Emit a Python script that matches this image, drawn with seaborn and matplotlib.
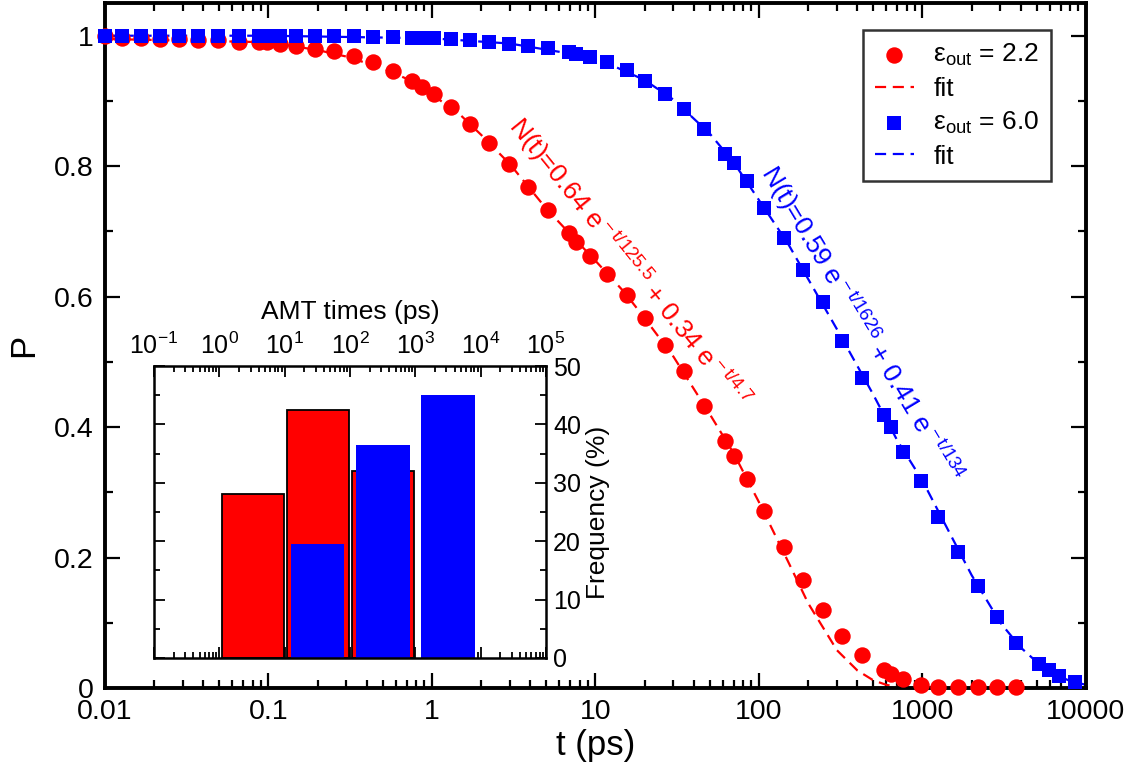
import matplotlib
matplotlib.use("Agg")
import matplotlib.pyplot as plt
from matplotlib.ticker import FuncFormatter, LogLocator, MultipleLocator, NullFormatter
import pandas as pd
import seaborn as sns

# survival probability, eps_out = 2.2 (red circles)
t_red = [0.01, 0.0127, 0.0166, 0.0218, 0.0285, 0.0373, 0.0489, 0.0656, 0.088, 0.098,
         0.117, 0.147, 0.192, 0.253, 0.334, 0.438, 0.578, 0.757, 0.867, 1.035,
         1.31, 1.70, 2.24, 2.95, 3.88, 5.13, 6.85, 7.63, 9.2, 11.7,
         15.5, 20.1, 26.6, 34.7, 46, 62, 70, 85, 108, 142,
         187, 247, 324, 427, 580, 645, 764, 986, 1250, 1650,
         2180, 2850, 3750]
p_red = [0.999, 0.997, 0.996, 0.995, 0.995, 0.994, 0.993, 0.991, 0.990, 0.990,
         0.988, 0.984, 0.980, 0.976, 0.969, 0.959, 0.946, 0.930, 0.921, 0.910,
         0.891, 0.865, 0.836, 0.804, 0.768, 0.733, 0.698, 0.684, 0.663, 0.635,
         0.603, 0.567, 0.526, 0.486, 0.432, 0.378, 0.356, 0.321, 0.271, 0.217,
         0.165, 0.119, 0.080, 0.050, 0.027, 0.022, 0.014, 0.005, 0.002, 0.001,
         0.001, 0.001, 0.001]

# survival probability, eps_out = 6.0 (blue squares)
t_blue = [0.01, 0.0127, 0.0166, 0.0218, 0.0285, 0.0373, 0.0489, 0.0656, 0.088, 0.098,
          0.117, 0.147, 0.192, 0.253, 0.334, 0.438, 0.578, 0.757, 0.867, 1.035,
          1.31, 1.70, 2.24, 2.95, 3.88, 5.13, 6.85, 7.63, 9.2, 11.7,
          15.5, 20.1, 26.6, 34.7, 46, 62, 70, 85, 108, 142,
          187, 247, 324, 427, 580, 645, 764, 986, 1250, 1650,
          2180, 2850, 3750, 5150, 5950, 6800, 8600]
p_blue = [1.0, 1.0, 1.0, 1.0, 1.0, 1.0, 1.0, 1.0, 0.999, 0.999,
          0.999, 0.999, 0.999, 0.999, 0.999, 0.998, 0.998, 0.997, 0.997, 0.996,
          0.995, 0.993, 0.990, 0.988, 0.985, 0.981, 0.975, 0.972, 0.967, 0.959,
          0.947, 0.931, 0.911, 0.888, 0.857, 0.819, 0.805, 0.777, 0.736, 0.690,
          0.641, 0.592, 0.532, 0.476, 0.418, 0.400, 0.362, 0.318, 0.263, 0.208,
          0.156, 0.109, 0.069, 0.037, 0.027, 0.019, 0.010]

# fitted curves
fit_t_red = [0.01, 0.1, 0.2, 0.3, 0.5, 0.7, 1, 1.5, 2, 3, 5, 7, 10, 15, 20, 30,
             50, 70, 100, 150, 200, 300, 400, 500, 600, 700, 800]
fit_p_red = [0.995, 0.99, 0.978, 0.968, 0.95, 0.934, 0.91, 0.878, 0.848, 0.803,
             0.735, 0.696, 0.655, 0.607, 0.567, 0.508, 0.42, 0.36, 0.285, 0.195,
             0.13, 0.058, 0.027, 0.012, 0.005, 0.002, 0.0]
fit_t_blue = [0.01, 0.1, 1, 3, 10, 20, 30, 50, 70, 100, 150, 200, 300, 500, 700,
              1000, 1500, 2000, 3000, 4000, 5000, 6000, 7000, 8000, 10000]
fit_p_blue = [1.0, 1.0, 0.996, 0.988, 0.966, 0.932, 0.902, 0.85, 0.806, 0.748,
              0.682, 0.627, 0.55, 0.45, 0.38, 0.318, 0.233, 0.173, 0.100, 0.062,
              0.040, 0.026, 0.017, 0.011, 0.005]

# inset: AMT time histogram, one bin per decade
red_bin_lo = [1, 10, 100]
red_bin_hi = [10, 100, 1000]
red_freq = [28, 42.5, 32]
blue_bin_lo = [10, 100, 1000]
blue_bin_hi = [100, 1000, 10000]
blue_freq = [19.5, 36.5, 45]

red_label = r"N(t)=0.64 e$^{\rm -t/125.5}$ + 0.34 e$^{\rm -t/4.7}$"
blue_label = r"N(t)=0.59 e$^{\rm -t/1626}$ + 0.41 e$^{\rm -t/134}$"


def main():
    sns.set_style("ticks")
    plt.rcParams["font.family"] = ["Liberation Sans", "DejaVu Sans"]
    plt.rcParams["mathtext.fontset"] = "custom"
    plt.rcParams["mathtext.rm"] = "Liberation Sans"
    plt.rcParams["mathtext.it"] = "Liberation Sans:italic"
    for key in ["text.color", "axes.labelcolor", "xtick.color", "ytick.color",
                "axes.edgecolor"]:
        plt.rcParams[key] = "black"

    df_red = pd.DataFrame({"t": t_red, "P": p_red})
    df_blue = pd.DataFrame({"t": t_blue, "P": p_blue})
    fit_red = pd.DataFrame({"t": fit_t_red, "P": fit_p_red})
    fit_blue = pd.DataFrame({"t": fit_t_blue, "P": fit_p_blue})

    fig = plt.figure(figsize=(11.46, 7.74), dpi=100)
    ax = fig.add_axes([0.0916, 0.111, 0.856, 0.885])

    dash = (0, (5, 3))
    sns.scatterplot(data=df_red, x="t", y="P", ax=ax, color="red", marker="o",
                    s=140, linewidth=0, label="ε$_{\\rm out}$ = 2.2", zorder=3,
                    clip_on=False)
    sns.lineplot(data=fit_red, x="t", y="P", ax=ax, color="red", linestyle=dash,
                 linewidth=1.6, label="fit", zorder=2)
    sns.scatterplot(data=df_blue, x="t", y="P", ax=ax, color="blue", marker="s",
                    s=105, linewidth=0, label="ε$_{\\rm out}$ = 6.0", zorder=3,
                    clip_on=False)
    sns.lineplot(data=fit_blue, x="t", y="P", ax=ax, color="blue", linestyle=dash,
                 linewidth=1.6, label="fit", zorder=2)

    ax.set_xscale("log")
    ax.set_xlim(0.01, 10000)
    ax.set_ylim(0, 1.05)
    ax.xaxis.set_major_formatter(FuncFormatter(lambda v, p: "%g" % v))
    ax.xaxis.set_minor_locator(LogLocator(base=10, subs=range(2, 10), numticks=20))
    ax.xaxis.set_minor_formatter(NullFormatter())
    ax.yaxis.set_major_locator(MultipleLocator(0.2))
    ax.yaxis.set_minor_locator(MultipleLocator(0.1))
    ax.yaxis.set_major_formatter(FuncFormatter(lambda v, p: "%g" % round(v, 2)))
    ax.tick_params(which="both", direction="in", top=True, right=True, width=1.6,
                   labelsize=20.5)
    ax.tick_params(which="major", length=11, pad=8)
    ax.tick_params(which="minor", length=6)
    for sp in ax.spines.values():
        sp.set_linewidth(2.8)
    ax.set_xlabel("t (ps)", fontsize=25, labelpad=3)
    ax.set_ylabel("P", fontsize=25, labelpad=10)

    leg = ax.legend(loc="upper right", bbox_to_anchor=(0.97, 0.968), fontsize=19,
                    frameon=True, fancybox=False, edgecolor="black",
                    handlelength=1.45, borderpad=0.45, labelspacing=0.33,
                    handletextpad=0.75, borderaxespad=0.2)
    leg.get_frame().set_linewidth(1.8)

    ax.text(2.9, 0.86, red_label, color="red", fontsize=19, rotation=-51,
            rotation_mode="anchor", ha="left", va="baseline")
    ax.text(101, 0.79, blue_label, color="blue", fontsize=19, rotation=-59,
            rotation_mode="anchor", ha="left", va="baseline")

    # inset histogram
    ax_in = fig.add_axes([0.1344, 0.1499, 0.342, 0.3772])
    ax_in.set_xscale("log")
    red_left = [lo * 1.08 for lo in red_bin_lo]
    red_w = [hi * 0.96 - l for hi, l in zip(red_bin_hi, red_left)]
    blue_left = [lo * 1.23 for lo in blue_bin_lo]
    blue_w = [hi * 0.815 - l for hi, l in zip(blue_bin_hi, blue_left)]
    ax_in.bar(red_left, red_freq, width=red_w, align="edge", color="red",
              edgecolor="black", linewidth=1.3)
    ax_in.bar(blue_left, blue_freq, width=blue_w, align="edge", color="blue",
              edgecolor="none")
    ax_in.set_xlim(0.1, 1e5)
    ax_in.set_ylim(0, 50)
    ax_in.xaxis.set_major_locator(LogLocator(base=10, numticks=10))
    ax_in.xaxis.set_minor_locator(LogLocator(base=10, subs=range(2, 10), numticks=20))
    ax_in.xaxis.set_minor_formatter(NullFormatter())
    ax_in.yaxis.set_major_locator(MultipleLocator(10))
    ax_in.yaxis.set_minor_locator(MultipleLocator(5))
    ax_in.tick_params(which="both", direction="in", top=True, bottom=True,
                      left=True, right=True, labeltop=True, labelbottom=False,
                      labelleft=False, labelright=True, width=1.3, labelsize=18)
    ax_in.tick_params(which="major", length=8, pad=5)
    ax_in.tick_params(which="minor", length=4)
    for sp in ax_in.spines.values():
        sp.set_linewidth(1.8)
    ax_in.xaxis.set_label_position("top")
    ax_in.yaxis.set_label_position("right")
    ax_in.set_xlabel("AMT times (ps)", fontsize=19, labelpad=10)
    ax_in.set_ylabel("Frequency (%)", fontsize=19, labelpad=4)

    fig.savefig("out.png", dpi=100)


if __name__ == "__main__":
    main()
